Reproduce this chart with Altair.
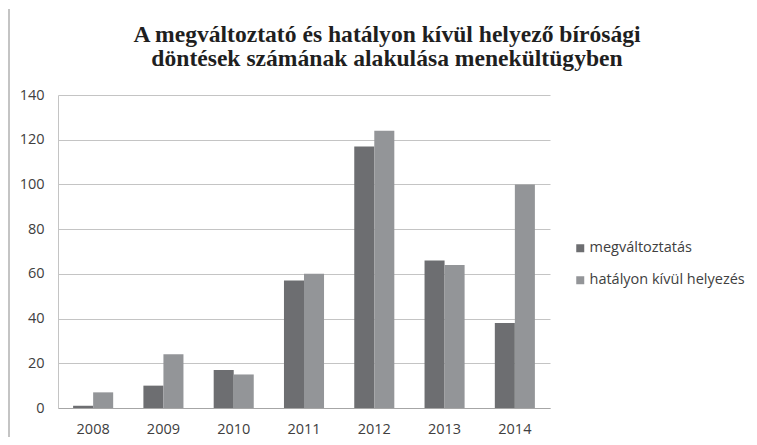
import altair as alt
import pandas as pd

years = ["2008", "2009", "2010", "2011", "2012", "2013", "2014"]
series = ["megváltoztatás", "hatályon kívül helyezés"]
megvaltoztatas = [1, 10, 17, 57, 117, 66, 38]
hatalyon_kivul = [7, 24, 15, 60, 124, 64, 100]
y_ticks = [0, 20, 40, 60, 80, 100, 120, 140]
title_lines = [
    "A megváltoztató és hatályon kívül helyező bírósági",
    "döntések számának alakulása menekültügyben",
]

rows = []
for i, y in enumerate(years):
    rows.append({"year": y, "series": series[0], "value": megvaltoztatas[i]})
    rows.append({"year": y, "series": series[1], "value": hatalyon_kivul[i]})
df = pd.DataFrame(rows)

label_font = "Open Sans"

bars = alt.Chart(df).mark_bar().encode(
    x=alt.X(
        "year:N",
        sort=years,
        scale=alt.Scale(paddingInner=0.43, paddingOuter=0.215),
        axis=alt.Axis(
            title=None, labelAngle=0, ticks=False, domainColor="#a6a6a6",
            labelFont=label_font, labelFontSize=14.5, labelColor="#404040",
            labelPadding=14,
        ),
    ),
    xOffset=alt.XOffset("series:N", sort=series),
    y=alt.Y(
        "value:Q",
        scale=alt.Scale(domain=[0, 140], nice=False),
        axis=alt.Axis(
            title=None, values=y_ticks, ticks=False, domain=True,
            domainColor="#c4c4c4", gridColor="#c4c4c4", grid=True,
            labelFont=label_font, labelFontSize=14.5, labelColor="#404040",
            labelPadding=14,
        ),
    ),
    color=alt.Color(
        "series:N",
        sort=series,
        scale=alt.Scale(domain=series, range=["#6d6e71", "#939598"]),
        legend=alt.Legend(
            title=None, orient="none", legendX=515, legendY=146,
            symbolType="square", symbolSize=64, symbolStrokeWidth=0,
            labelFont=label_font, labelFontSize=14.5, labelColor="#404040",
            rowPadding=17, labelOffset=2,
        ),
    ),
)

title_df = pd.DataFrame({"line": title_lines, "order": [0, 1]})

title1 = alt.Chart(title_df).transform_filter(alt.datum.order == 0).mark_text(
    font="Liberation Serif", fontSize=23.6, fontWeight="bold", color="#1f1f1f",
    align="center", baseline="alphabetic",
).encode(text="line:N", x=alt.value(329), y=alt.value(-53))

title2 = alt.Chart(title_df).transform_filter(alt.datum.order == 1).mark_text(
    font="Liberation Serif", fontSize=23.6, fontWeight="bold", color="#1f1f1f",
    align="center", baseline="alphabetic",
).encode(text="line:N", x=alt.value(329), y=alt.value(-29))

frame_left = alt.Chart(title_df).transform_filter(alt.datum.order == 0).mark_rule(
    color="#c4c4c4", strokeWidth=2
).encode(x=alt.value(-49), x2=alt.value(-49), y=alt.value(-86), y2=alt.value(342))

chart = alt.layer(bars, title1, title2, frame_left).properties(
    width=492,
    height=313,
    autosize=alt.AutoSizeParams(type="none"),
    padding={"left": 50, "top": 87, "right": 199, "bottom": 29},
).configure_view(stroke=None)

chart.save("out.html", embed_options={"renderer": "svg", "actions": False})
